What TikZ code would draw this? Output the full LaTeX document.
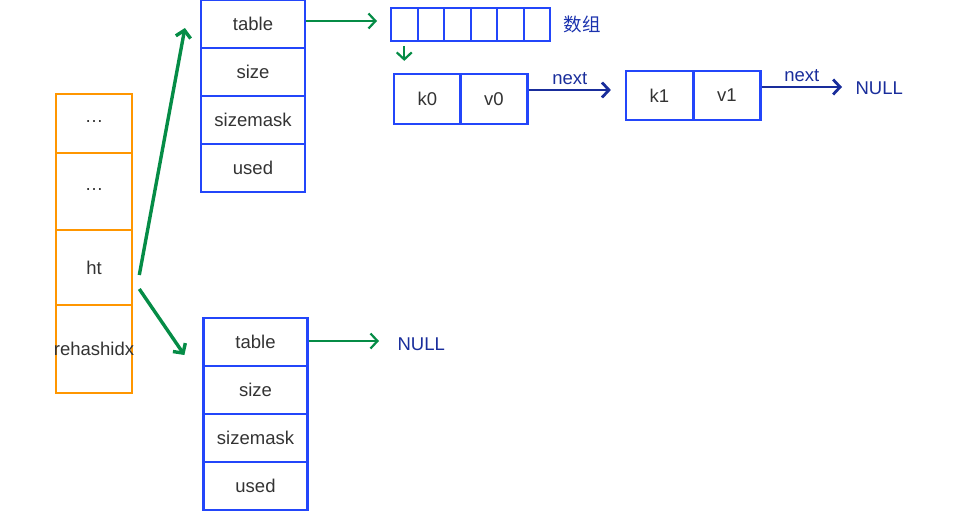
\documentclass[tikz,border=0pt]{standalone}
\usepackage{fontspec}
\setmainfont{Liberation Sans}
\newfontfamily\cjk{Noto Sans CJK SC}
\usepackage{tikz}
\usetikzlibrary{arrows.meta}
\tikzset{>={Straight Barb[length=7pt,width=15pt]}}
\definecolor{dictblue}{RGB}{35,70,250}
\definecolor{dictorange}{RGB}{255,150,0}
\definecolor{dictgreen}{RGB}{5,140,70}
\definecolor{dictnavy}{RGB}{25,45,155}

\begin{document}
\begin{tikzpicture}[x=1pt,y=-1pt,
    txt/.style={font=\fontsize{18.5}{22}\selectfont,text=black!80},
    field/.style={txt,draw=dictblue,line width=2.2pt,inner sep=0pt,minimum width=104pt,minimum height=48pt},
    slot/.style={txt,draw=dictorange,line width=2.6pt,inner sep=0pt,minimum width=76pt},
    bucket/.style={draw=dictblue,line width=2pt,inner sep=0pt,minimum width=26.5pt,minimum height=33pt},
    entry/.style={txt,draw=dictblue,line width=2.2pt,inner sep=0pt,minimum width=67pt,minimum height=50pt},
    gptr/.style={->,dictgreen,line width=2.2pt},
    nptr/.style={->,dictnavy,line width=2.8pt}]
  \useasboundingbox (0,0) rectangle (968,524);

  % limits
  \def\bx{253}   % upper ht table
  \def\cx{255.5} % lower ht table
  \def\ay{24.5}  % bucket row

  % dict struct
  \node[slot,minimum height=59pt] (dots1) at (94,123.5) {\raisebox{4pt}{…}};
  \node[slot,minimum height=77pt] (dots2) at (94,191.5) {\raisebox{4pt}{…}};
  \node[slot,minimum height=75pt] (ht) at (94,267.5) {ht};
  \node[slot,minimum height=88pt] (rehash) at (94,349) {\makebox[72pt]{rehashidx}};

  % ht[0]
  \node[field] (tab1) at (\bx,24) {table};
  \node[field] (size1) at (\bx,72) {size};
  \node[field] (mask1) at (\bx,120) {sizemask};
  \node[field] (used1) at (\bx,168) {used};

  % ht[1]
  \node[field] (tab2) at (\cx,342) {table};
  \node[field] (size2) at (\cx,390) {size};
  \node[field] (mask2) at (\cx,438) {sizemask};
  \node[field] (used2) at (\cx,486) {used};

  % buckets
  \foreach \i in {1,...,6}{
    \node[bucket] (a\i) at ({391+(\i-0.5)*26.5},\ay) {};
  }
  \node[txt,text=dictnavy!80!dictblue,anchor=west] (arr) at (560,\ay) {\cjk 数组};

  % entries
  \node[entry] (k0) at (427.5,99) {k0};
  \node[entry] (v0) at (494,99) {v0};
  \node[entry,minimum height=49pt] (k1) at (659.5,95.5) {k1};
  \node[entry,minimum height=49pt] (v1) at (727,95.5) {v1};
  \node[txt,text=dictnavy,anchor=west] (null1) at (852,88) {NULL};
  \node[txt,text=dictnavy,anchor=west] (null2) at (394,344) {NULL};

  % pointers
  \draw[gptr,line width=3.4pt] ([xshift=6pt,yshift=-7.5pt]ht.east) -- ([xshift=-15pt,yshift=-4pt]tab1.west);
  \draw[gptr,line width=3.4pt] ([xshift=6pt,yshift=-21.5pt]ht.east) -- ([xshift=-18pt,yshift=-13pt]tab2.west);
  \draw[gptr] ([yshift=3pt]tab1.east) -- ([xshift=-13pt,yshift=3.5pt]a1.west);
  \draw[gptr] ([yshift=1pt]tab2.east) -- ([xshift=-15pt,yshift=3pt]null2.west);
  \draw[gptr] ([yshift=-4pt]a1.south) -- ([yshift=12pt]a1.south |- k0.north);
  \draw[nptr] ([yshift=9pt]v0.east) -- node[txt,text=dictnavy,above=1pt] {next} ([xshift=-14pt,yshift=5.5pt]k1.west);
  \draw[nptr] ([yshift=8.5pt]v1.east) -- node[txt,text=dictnavy,above=1pt] {next} ([xshift=-10pt,yshift=1pt]null1.west);
\end{tikzpicture}
\end{document}
